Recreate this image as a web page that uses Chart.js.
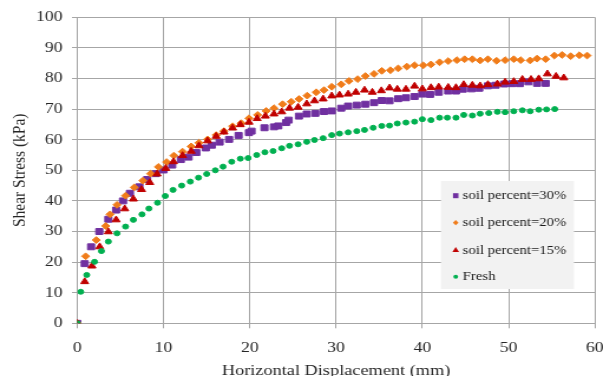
<!DOCTYPE html>
<html>
<head>
<meta charset="utf-8">
<script src="https://cdn.jsdelivr.net/npm/chart.js@4.4.1/dist/chart.umd.min.js"></script>
<style>
  html, body { margin: 0; padding: 0; background: #fff; overflow: hidden; }
  /* the source picture is stretched sideways, so the canvas is too */
  #wrap { width: 511px; height: 376px; transform: scaleX(1.18); transform-origin: 0 0; }
</style>
</head>
<body>
<div id="wrap"><canvas id="shearChart" width="511" height="376"></canvas></div>
<script>
// ---- data ----
const xTicks = [0, 10, 20, 30, 40, 50, 60];
const yTicks = [0, 10, 20, 30, 40, 50, 60, 70, 80, 90, 100];

const seriesNames = ['soil percent=30%', 'soil percent=20%', 'soil percent=15%', 'Fresh'];

const soil30X = [0, 0.86, 1.6, 2.55, 3.6, 4.5, 5.3, 6.1, 7.2, 8.1, 9.1, 10.0, 11.0, 12.0, 12.9, 13.8,
  14.9, 15.6, 16.5, 17.6, 18.7, 19.9, 20.2, 21.7, 22.8, 23.3, 24.2, 24.5, 25.7, 26.6, 27.6, 28.6,
  29.5, 30.6, 31.4, 32.4, 33.4, 34.4, 35.3, 36.2, 37.2, 38.1, 39.1, 40.0, 40.9, 41.9, 43.0, 43.9,
  44.7, 45.7, 46.6, 47.6, 48.5, 49.5, 50.4, 51.3, 52.3, 53.3, 54.3];
const soil30Y = [0, 19.5, 25.0, 30.0, 34.0, 37.0, 40.0, 42.5, 44.6, 47.0, 48.9, 50.1, 51.7, 53.5, 54.3, 55.8,
  57.3, 58.2, 59.2, 60.1, 61.4, 62.3, 62.8, 63.9, 64.2, 64.5, 65.6, 66.4, 67.7, 68.4, 68.6, 69.2,
  69.4, 70.3, 71.0, 71.3, 71.6, 72.1, 72.8, 72.7, 73.4, 73.7, 74.1, 74.9, 74.8, 75.5, 75.9, 75.9,
  76.5, 76.6, 76.8, 77.6, 77.8, 78.2, 78.3, 78.3, 78.9, 78.4, 78.4];

const soil20X = [0, 0.97, 2.2, 3.3, 3.8, 4.6, 5.6, 6.6, 7.6, 8.5, 9.4, 10.35, 11.2, 12.2, 13.2, 14.1,
  15.1, 16.1, 17.0, 18.0, 19.0, 19.9, 20.9, 21.9, 22.8, 23.8, 24.8, 25.7, 26.65, 27.7, 28.6, 29.5,
  30.6, 31.5, 32.5, 33.4, 34.4, 35.3, 36.3, 37.2, 38.2, 39.1, 40.1, 41.0, 42.0, 43.0, 44.0, 44.9,
  45.8, 46.7, 47.6, 48.6, 49.6, 50.6, 51.4, 52.5, 53.3, 54.3, 55.3, 56.2, 57.2, 58.2, 59.1];
const soil20Y = [0, 21.9, 27.2, 31.8, 35.6, 38.7, 41.7, 44.4, 46.6, 48.9, 51.1, 52.7, 54.8, 56.1, 57.8, 59.0,
  60.1, 61.5, 62.8, 64.4, 65.4, 67.0, 68.1, 69.4, 70.3, 71.6, 72.4, 73.3, 74.4, 75.5, 76.2, 77.3,
  78.1, 79.2, 79.8, 80.8, 81.5, 82.5, 82.7, 83.3, 83.9, 84.3, 84.3, 84.6, 85.3, 85.7, 86.0, 86.3,
  86.3, 85.9, 86.3, 85.8, 86.0, 86.3, 86.0, 85.9, 86.5, 86.3, 87.5, 87.7, 87.3, 87.6, 87.5];

const soil15X = [0, 0.86, 1.7, 2.6, 3.6, 4.5, 5.5, 6.5, 7.45, 8.4, 9.25, 10.25, 11.15, 12.2, 13.2, 14.1,
  15.1, 16.1, 17.0, 18.0, 18.9, 19.9, 20.85, 21.8, 22.8, 23.7, 24.6, 25.6, 26.6, 27.5, 28.5, 29.5,
  30.4, 31.4, 32.3, 33.3, 34.2, 35.25, 36.2, 37.1, 38.1, 39.1, 40.0, 41.0, 41.9, 43.0, 43.9, 44.8,
  45.8, 46.7, 47.6, 48.7, 49.6, 50.6, 51.6, 52.6, 53.5, 54.5, 55.5, 56.4];
const soil15Y = [0, 13.6, 18.7, 25.0, 29.9, 33.8, 37.4, 40.6, 43.7, 46.0, 48.8, 50.6, 52.8, 54.8, 56.2, 58.0,
  59.6, 61.1, 62.5, 63.8, 64.9, 65.7, 66.9, 67.7, 68.4, 69.1, 70.3, 70.6, 71.7, 72.7, 73.3, 74.3,
  74.6, 74.9, 75.5, 76.2, 75.5, 76.0, 76.9, 76.5, 76.5, 77.5, 76.6, 77.0, 77.2, 77.1, 77.0, 78.0,
  77.8, 77.6, 78.0, 78.2, 78.8, 79.0, 79.7, 79.7, 79.9, 81.5, 80.7, 80.2];

const freshX = [0, 0.4, 1.1, 2.0, 2.8, 3.6, 4.6, 5.6, 6.5, 7.5, 8.3, 9.3, 10.2, 11.1, 12.1, 13.1,
  14.05, 15.0, 16.0, 16.9, 17.9, 18.9, 19.8, 20.8, 21.75, 22.7, 23.7, 24.6, 25.6, 26.6, 27.5, 28.5,
  29.5, 30.4, 31.4, 32.4, 33.3, 34.3, 35.3, 36.2, 37.1, 38.1, 39.1, 40.0, 41.0, 42.0, 42.9, 43.9,
  44.8, 45.8, 46.7, 47.7, 48.7, 49.6, 50.6, 51.6, 52.5, 53.5, 54.4, 55.35];
const freshY = [0, 10.3, 15.8, 20.1, 23.6, 26.7, 29.4, 31.6, 33.8, 35.6, 37.5, 39.4, 41.6, 43.6, 45.0, 46.3,
  47.6, 48.8, 50.0, 51.2, 52.8, 53.8, 54.0, 55.0, 55.9, 56.3, 57.2, 58.0, 58.5, 59.3, 59.9, 60.5,
  61.5, 62.0, 62.4, 62.8, 63.2, 63.9, 64.5, 64.6, 65.3, 65.6, 65.9, 66.7, 66.4, 67.2, 67.2, 67.2,
  68.1, 67.9, 68.5, 68.7, 69.1, 69.0, 69.3, 69.6, 69.3, 69.8, 69.9, 70.0];

// ---- look ----
const PURPLE = '#7030a0';
const ORANGE = '#f07c1a';
const RED    = '#c00000';
const GREEN  = '#00b050';
const GRID   = '#a6a6a6';
const TEXT   = '#262626';
const SERIF  = "'Liberation Serif', 'Times New Roman', serif";

const toPoints = (xs, ys) => xs.map((x, i) => ({ x: x, y: ys[i] }));

// Excel-style legend, sitting inside the plot on the right
const boxLegend = {
  id: 'boxLegend',
  afterDraw(chart) {
    const ctx = chart.ctx;
    const items = [
      { text: seriesNames[0], color: PURPLE, shape: 'square' },
      { text: seriesNames[1], color: ORANGE, shape: 'diamond' },
      { text: seriesNames[2], color: RED,    shape: 'triangle' },
      { text: seriesNames[3], color: GREEN,  shape: 'circle' },
    ];
    ctx.save();
    ctx.fillStyle = '#f2f2f2';
    ctx.fillRect(373.7, 181, 112.7, 108);

    const rows = [195.7, 222.7, 250, 276.7];
    const mx = 386.2;
    items.forEach((it, i) => {
      const y = rows[i];
      ctx.fillStyle = it.color;
      ctx.beginPath();
      if (it.shape === 'square') {
        ctx.rect(mx - 2.3, y - 2.5, 4.6, 5);
      } else if (it.shape === 'diamond') {
        ctx.moveTo(mx, y - 2.6); ctx.lineTo(mx + 2.4, y);
        ctx.lineTo(mx, y + 2.6); ctx.lineTo(mx - 2.4, y);
        ctx.closePath();
      } else if (it.shape === 'triangle') {
        ctx.moveTo(mx, y - 3); ctx.lineTo(mx + 2.8, y + 2);
        ctx.lineTo(mx - 2.8, y + 2);
        ctx.closePath();
      } else {
        ctx.arc(mx, y, 2, 0, Math.PI * 2);
      }
      ctx.fill();

      ctx.fillStyle = '#1a1a1a';
      ctx.font = '12.5px ' + SERIF;
      ctx.textBaseline = 'middle';
      ctx.textAlign = 'left';
      ctx.fillText(it.text, 392.1, y + 0.5);
    });
    ctx.restore();
  }
};

const ctx = document.getElementById('shearChart').getContext('2d');

new Chart(ctx, {
  type: 'scatter',
  data: {
    // Fresh first so it is drawn on top, as in the source
    datasets: [
      { label: seriesNames[3], data: toPoints(freshX, freshY),
        pointStyle: 'circle',   radius: 2.5, borderWidth: 1,
        backgroundColor: GREEN,  borderColor: GREEN },
      { label: seriesNames[2], data: toPoints(soil15X, soil15Y),
        pointStyle: 'triangle', radius: 3.9, borderWidth: 1,
        backgroundColor: RED,    borderColor: RED },
      { label: seriesNames[1], data: toPoints(soil20X, soil20Y),
        pointStyle: 'rectRot',  radius: 3.4, borderWidth: 1,
        backgroundColor: ORANGE, borderColor: ORANGE },
      { label: seriesNames[0], data: toPoints(soil30X, soil30Y),
        pointStyle: 'rect',     radius: 4.2, borderWidth: 1,
        backgroundColor: PURPLE, borderColor: PURPLE },
    ]
  },
  options: {
    responsive: false,
    devicePixelRatio: 1,
    animation: false,
    events: [],
    layout: { padding: { top: 17.3, right: 6.9, left: 0, bottom: 0 } },
    plugins: {
      legend:  { display: false },
      tooltip: { enabled: false },
    },
    scales: {
      x: {
        type: 'linear',
        min: 0, max: 60,
        afterBuildTicks: (s) => { s.ticks = xTicks.map(v => ({ value: v })); },
        afterFit: (s) => { s.height = 52.7; s.paddingLeft = 0; s.paddingRight = 0; },
        grid:   { color: GRID, lineWidth: 1, tickLength: 5 },
        border: { color: GRID, width: 1 },
        ticks: {
          color: TEXT,
          padding: 11,
          maxRotation: 0,
          font: { family: SERIF, size: 15 },
        },
        title: {
          display: true,
          text: 'Horizontal Displacement (mm)',
          color: TEXT,
          padding: { top: 0, bottom: -3 },
          font: { family: SERIF, size: 15.5, lineHeight: 1 },
        },
      },
      y: {
        type: 'linear',
        min: 0, max: 100,
        afterBuildTicks: (s) => { s.ticks = yTicks.map(v => ({ value: v })); },
        afterFit: (s) => { s.width = 65.5; s.paddingTop = 0; s.paddingBottom = 0; },
        grid:   { color: GRID, lineWidth: 1, tickLength: 4.5 },
        border: { color: GRID, width: 1 },
        ticks: {
          color: TEXT,
          padding: 7.9,
          font: { family: SERIF, size: 15 },
        },
        title: {
          display: true,
          text: 'Shear Stress (kPa)',
          color: TEXT,
          padding: { top: 8, bottom: 0 },
          font: { family: SERIF, size: 15.5, lineHeight: 1.2 },
        },
      },
    },
  },
  plugins: [boxLegend],
});
</script>
</body>
</html>
